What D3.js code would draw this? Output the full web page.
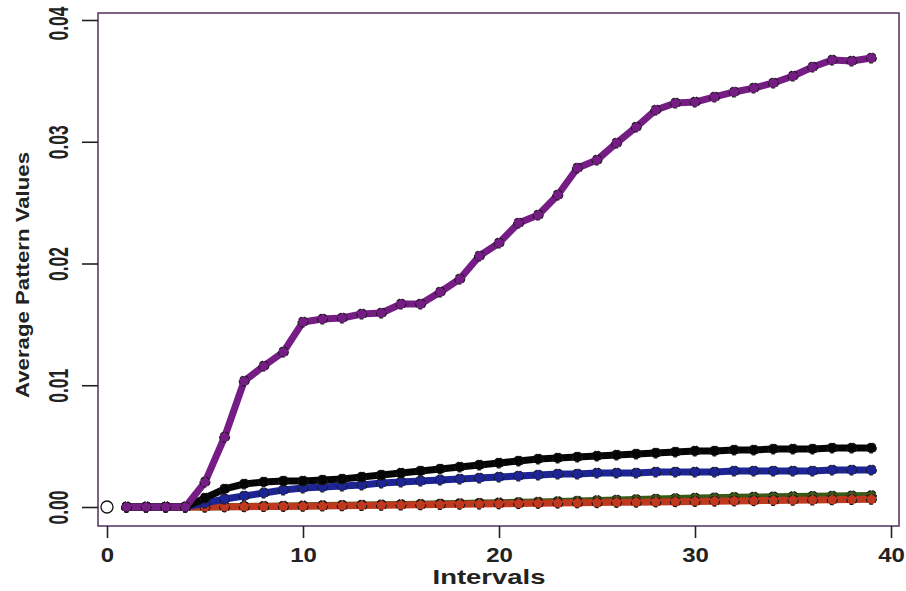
<!DOCTYPE html>
<html lang="en">
<head>
    <meta charset="utf-8">
    <title>Average Pattern Values</title>
    <script src="https://cdn.jsdelivr.net/npm/d3@7"></script>
    <style>
        body { margin: 0; background: #fff; }
        text { font-family: "Liberation Sans", Arial, sans-serif; font-weight: bold; fill: #222; }
    </style>
</head>
<body>
<div id="graph"></div>
<script>
    var w = 906;
    var h = 591;

    // interval index for each point
    var intervals = [1, 2, 3, 4, 5, 6, 7, 8, 9, 10, 11, 12, 13, 14, 15, 16, 17, 18, 19, 20,
        21, 22, 23, 24, 25, 26, 27, 28, 29, 30, 31, 32, 33, 34, 35, 36, 37, 38, 39];

    var purpleSeries = [0, 0, 0, 0, 0.00205, 0.00575, 0.01035, 0.01158, 0.01273, 0.0152,
        0.01544, 0.01552, 0.01585, 0.01593, 0.01667, 0.01667, 0.01766, 0.01873, 0.02062, 0.02168,
        0.02333, 0.02398, 0.02563, 0.02784, 0.0285, 0.0299, 0.03121, 0.03261, 0.03318, 0.03326,
        0.03368, 0.03409, 0.03441, 0.03483, 0.0354, 0.03614, 0.03671, 0.03663, 0.03688];

    var blackSeries = [0, 0, 0, 0, 0.00074, 0.00148, 0.00189, 0.00205, 0.00214, 0.00214,
        0.00222, 0.0023, 0.00246, 0.00263, 0.00279, 0.00296, 0.00312, 0.00329, 0.00345, 0.00361,
        0.00378, 0.00394, 0.00402, 0.00411, 0.00419, 0.00427, 0.00435, 0.00444, 0.00452, 0.0046,
        0.0046, 0.00468, 0.00468, 0.00476, 0.00476, 0.00476, 0.00485, 0.00485, 0.00485];

    var blueSeries = [0, 0, 0, 0, 0.00033, 0.00066, 0.0009, 0.00115, 0.0014, 0.00156,
        0.00164, 0.00172, 0.00181, 0.00197, 0.00205, 0.00214, 0.00222, 0.0023, 0.00238, 0.00246,
        0.00255, 0.00263, 0.00271, 0.00271, 0.00279, 0.00279, 0.00279, 0.00287, 0.00287, 0.00287,
        0.00287, 0.00296, 0.00296, 0.00296, 0.00296, 0.00296, 0.00304, 0.00304, 0.00304];

    var greenSeries = [0, 0, 0, 0, 0, 0.00003, 0.00005, 0.00007, 0.00009, 0.0001,
        0.00012, 0.00014, 0.00016, 0.00018, 0.0002, 0.00023, 0.00026, 0.00029, 0.00032, 0.00035,
        0.00038, 0.00042, 0.00046, 0.0005, 0.00054, 0.00058, 0.00062, 0.00066, 0.0007, 0.00074,
        0.00077, 0.0008, 0.00082, 0.00084, 0.00086, 0.00088, 0.0009, 0.00092, 0.00094];

    var redSeries = [0, 0, 0, 0, 0, 0.00002, 0.00003, 0.00004, 0.00005, 0.00006,
        0.00008, 0.0001, 0.00012, 0.00014, 0.00016, 0.00018, 0.0002, 0.00022, 0.00024, 0.00026,
        0.00028, 0.0003, 0.00032, 0.00034, 0.00036, 0.00038, 0.0004, 0.00042, 0.00044, 0.00046,
        0.00048, 0.0005, 0.00052, 0.00054, 0.00056, 0.00058, 0.0006, 0.00062, 0.00064];

    // lone open point at the origin
    var originPoint = [0, 0];

    var xTicks = [0, 10, 20, 30, 40];
    var yTicks = [0, 0.01, 0.02, 0.03, 0.04];

    var xScale = d3.scaleLinear().domain([0, 40]).range([107, 891]);
    var yScale = d3.scaleLinear().domain([0, 0.04]).range([507, 20]);

    // frame edges in pixels
    var frame = {left: 98, right: 899, top: 13, bottom: 526};

    var svg = d3.select("#graph")
        .append("svg")
        .attr("width", w)
        .attr("height", h);

    svg.append("rect")
        .attr("x", frame.left)
        .attr("y", frame.top)
        .attr("width", frame.right - frame.left)
        .attr("height", frame.bottom - frame.top)
        .attr("fill", "none")
        .attr("stroke", "#5b3d68")
        .attr("stroke-width", 1.6);

    // x axis
    var xAxis = d3.axisBottom(xScale)
        .tickValues(xTicks)
        .tickSize(12)
        .tickFormat(function (d) { return d; });

    var gx = svg.append("g")
        .attr("transform", "translate(0," + frame.bottom + ")")
        .call(xAxis);
    gx.select(".domain").remove();
    gx.selectAll("line").attr("stroke", "#222").attr("stroke-width", 1.6);
    gx.selectAll("text")
        .attr("y", 22)
        .attr("dy", "0.71em")
        .style("font-size", "20px")
        .attr("fill", "#222")
        .each(function () {
            var len = this.getComputedTextLength();
            d3.select(this).attr("textLength", len * 1.2).attr("lengthAdjust", "spacingAndGlyphs");
        });

    // y axis
    var yAxis = d3.axisLeft(yScale)
        .tickValues(yTicks)
        .tickSize(16)
        .tickFormat(d3.format(".2f"));

    var gy = svg.append("g")
        .attr("transform", "translate(" + frame.left + ",0)")
        .call(yAxis);
    gy.select(".domain").remove();
    gy.selectAll("line").attr("stroke", "#222").attr("stroke-width", 1.6);
    gy.selectAll("text")
        .attr("x", null)
        .attr("dy", null)
        .attr("text-anchor", "middle")
        .attr("transform", function (d) {
            // top label sits a little lower so it stays on the page
            return "translate(-30," + (d === 0.04 ? 3 : 0) + ") rotate(-90)";
        })
        .attr("y", 0)
        .style("font-size", "28px")
        .attr("fill", "#222")
        .attr("textLength", 34)
        .attr("lengthAdjust", "spacingAndGlyphs");

    // axis titles
    svg.append("text")
        .attr("x", 489)
        .attr("y", 584)
        .attr("text-anchor", "middle")
        .style("font-size", "21px")
        .attr("textLength", 113)
        .attr("lengthAdjust", "spacingAndGlyphs")
        .text("Intervals");

    svg.append("text")
        .attr("text-anchor", "middle")
        .attr("transform", "translate(29,275) rotate(-90)")
        .style("font-size", "18px")
        .attr("textLength", 246)
        .attr("lengthAdjust", "spacingAndGlyphs")
        .text("Average Pattern Values");

    var series = [
        {values: greenSeries, color: "#3b5a17"},
        {values: redSeries, color: "#c0391f"},
        {values: blueSeries, color: "#1d2596"},
        {values: blackSeries, color: "#050505"},
        {values: purpleSeries, color: "#761d85"}
    ];

    var line = d3.line()
        .x(function (d) { return xScale(d[0]); })
        .y(function (d) { return yScale(d[1]); });

    series.forEach(function (s) {
        var pts = intervals.map(function (x, i) { return [x, s.values[i]]; });
        var g = svg.append("g");
        g.append("path")
            .datum(pts)
            .attr("d", line)
            .attr("fill", "none")
            .attr("stroke", s.color)
            .attr("stroke-width", 7)
            .attr("stroke-linejoin", "round");
        g.selectAll("circle")
            .data(pts)
            .enter()
            .append("circle")
            .attr("cx", function (d) { return xScale(d[0]); })
            .attr("cy", function (d) { return yScale(d[1]); })
            .attr("r", 5)
            .attr("fill", s.color)
            .attr("stroke", "#1a1a1a")
            .attr("stroke-width", 1.1)
            .attr("stroke-dasharray", "4,2");
    });

    svg.append("circle")
        .attr("cx", xScale(originPoint[0]))
        .attr("cy", yScale(originPoint[1]))
        .attr("r", 6)
        .attr("fill", "#fff")
        .attr("stroke", "#111")
        .attr("stroke-width", 1.3);
</script>
</body>
</html>
